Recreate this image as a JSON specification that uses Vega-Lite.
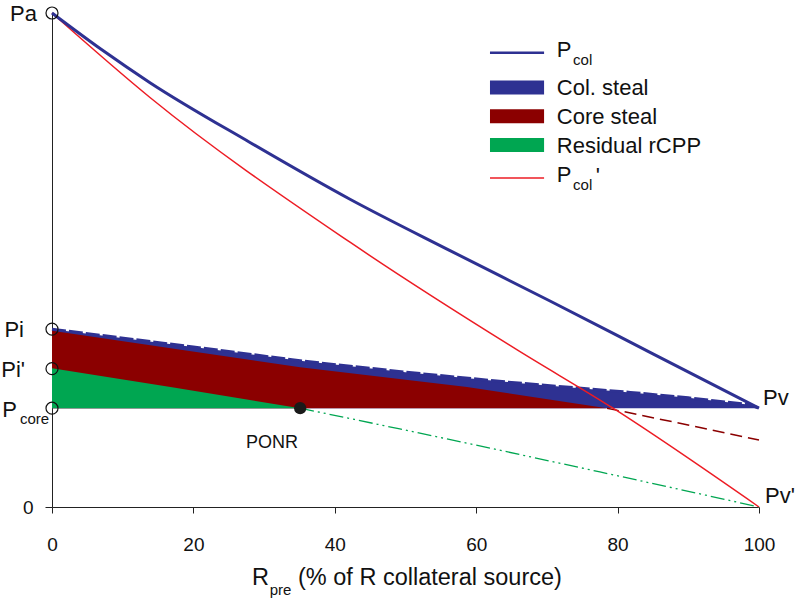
{
  "$schema": "https://vega.github.io/schema/vega-lite/v6.json",
  "width": 707,
  "height": 494,
  "autosize": {"type": "none"},
  "padding": {"left": 52, "top": 13, "right": 41, "bottom": 94},
  "background": "white",
  "config": {
    "view": {"stroke": null},
    "font": "Liberation Sans",
    "text": {"font": "Liberation Sans", "color": "#111"}
  },
  "datasets": {
    "curves": [
      {"series": "colTop", "x": 0, "y": 36.0},
      {"series": "colTop", "x": 20, "y": 32.4},
      {"series": "colTop", "x": 35.1, "y": 29.6},
      {"series": "colTop", "x": 50, "y": 27.3},
      {"series": "colTop", "x": 65, "y": 25.2},
      {"series": "colTop", "x": 81.8, "y": 23.2},
      {"series": "colTop", "x": 90, "y": 22.1},
      {"series": "colTop", "x": 98.7, "y": 20.7},
      {"series": "colTop", "x": 100, "y": 20.0},
      {"series": "coreTop", "x": 0, "y": 35.7},
      {"series": "coreTop", "x": 17.5, "y": 32.0},
      {"series": "coreTop", "x": 35.1, "y": 28.3},
      {"series": "coreTop", "x": 58.7, "y": 24.3},
      {"series": "coreTop", "x": 78.5, "y": 20.0},
      {"series": "coreDash", "x": 78.5, "y": 20.0},
      {"series": "coreDash", "x": 91.65, "y": 16.1},
      {"series": "coreDash", "x": 100, "y": 13.55},
      {"series": "resTop", "x": 0, "y": 28.1},
      {"series": "resTop", "x": 17.2, "y": 24.2},
      {"series": "resTop", "x": 35.1, "y": 20.0},
      {"series": "resDash", "x": 35.1, "y": 20.0},
      {"series": "resDash", "x": 49.2, "y": 15.8},
      {"series": "resDash", "x": 77.5, "y": 7.1},
      {"series": "resDash", "x": 100, "y": 0},
      {"series": "pcol", "x": 0, "y": 100},
      {"series": "pcol", "x": 7, "y": 92.6},
      {"series": "pcol", "x": 13.86, "y": 85.9},
      {"series": "pcol", "x": 28, "y": 73.8},
      {"series": "pcol", "x": 42.15, "y": 62.3},
      {"series": "pcol", "x": 56.3, "y": 51.9},
      {"series": "pcol", "x": 70.44, "y": 41.7},
      {"series": "pcol", "x": 85, "y": 31.0},
      {"series": "pcol", "x": 100, "y": 20.0},
      {"series": "pcolp", "x": 0, "y": 100},
      {"series": "pcolp", "x": 13.86, "y": 82.9},
      {"series": "pcolp", "x": 42.15, "y": 53.6},
      {"series": "pcolp", "x": 65.8, "y": 31.8},
      {"series": "pcolp", "x": 79.35, "y": 20.0},
      {"series": "pcolp", "x": 100, "y": 0}
    ],
    "markers": [
      {"name": "Pa", "x": 0, "y": 100},
      {"name": "Pi", "x": 0, "y": 36},
      {"name": "Pi'", "x": 0, "y": 28},
      {"name": "Pcore", "x": 0, "y": 20}
    ],
    "ponr": [{"x": 35.1, "y": 20}],
    "legendItems": [
      {"item": "Pcol", "kind": "line", "x": 61.95, "x2": 69.6, "y": 91.95},
      {"item": "Col. steal", "kind": "box", "x": 61.95, "x2": 69.6, "y": 84.9},
      {"item": "Core steal", "kind": "box", "x": 61.95, "x2": 69.6, "y": 79.1},
      {"item": "Residual rCPP", "kind": "box", "x": 61.95, "x2": 69.6, "y": 73.3},
      {"item": "Pcol'", "kind": "thin", "x": 61.95, "x2": 69.6, "y": 66.6}
    ],
    "labels": [
      {"text": "P", "kind": "left", "x": 71.4, "y": 91.05},
      {"text": "Col. steal", "kind": "left", "x": 71.4, "y": 83.35},
      {"text": "Core steal", "kind": "left", "x": 71.4, "y": 77.5},
      {"text": "Residual rCPP", "kind": "left", "x": 71.4, "y": 71.6},
      {"text": "P", "kind": "left", "x": 71.4, "y": 65.75},
      {"text": "'", "kind": "left", "x": 76.9, "y": 65.6},
      {"text": "Pv", "kind": "left", "x": 100.57, "y": 20.6},
      {"text": "Pv'", "kind": "left", "x": 100.85, "y": 0.8},
      {"text": "Pa", "kind": "right", "x": -2.12, "y": 98.3},
      {"text": "Pi", "kind": "right", "x": -3.96, "y": 34.4},
      {"text": "Pi'", "kind": "right", "x": -3.82, "y": 26.3},
      {"text": "P", "kind": "right", "x": -4.95, "y": 18.2},
      {"text": "col", "kind": "sub", "x": 73.7, "y": 89.4},
      {"text": "col", "kind": "sub", "x": 73.7, "y": 64.1},
      {"text": "core", "kind": "sub", "x": -4.53, "y": 16.8},
      {"text": "pre", "kind": "sub", "x": 30.8, "y": -17.8},
      {"text": "R", "kind": "title", "x": 28.29, "y": -15.7},
      {"text": "(% of R collateral source)", "kind": "title", "x": 34.8, "y": -15.7},
      {"text": "PONR", "kind": "ponr", "x": 34.8, "y": 11.9}
    ]
  },
  "encoding": {
    "x": {
      "field": "x", "type": "quantitative",
      "scale": {"domain": [0, 100], "nice": false, "zero": false},
      "axis": {
        "values": [0, 20, 40, 60, 80, 100], "title": null, "grid": false,
        "domainColor": "#222", "tickColor": "#222", "tickSize": 6,
        "labelFont": "Liberation Sans", "labelFontSize": 19, "labelColor": "#111",
        "labelBaseline": "alphabetic", "labelPadding": 37, "labelFlush": false
      }
    },
    "y": {
      "field": "y", "type": "quantitative",
      "scale": {"domain": [0, 100], "nice": false, "zero": false},
      "axis": {
        "values": [0], "title": null, "grid": false,
        "domainColor": "#222", "tickColor": "#222", "tickSize": 7,
        "labelFont": "Liberation Sans", "labelFontSize": 19, "labelColor": "#111",
        "labelPadding": 12
      }
    }
  },
  "layer": [
    {
      "data": {"name": "curves"},
      "transform": [{"filter": "datum.series === 'colTop'"}],
      "mark": {"type": "area", "color": "#2E3192", "opacity": 1},
      "encoding": {"y2": {"datum": 20}}
    },
    {
      "data": {"name": "curves"},
      "transform": [{"filter": "datum.series === 'colTop'"}],
      "mark": {"type": "line", "color": "#2E3192", "strokeWidth": 3, "strokeDash": [14, 3]},
      "encoding": {}
    },
    {
      "data": {"name": "curves"},
      "transform": [{"filter": "datum.series === 'coreTop'"}],
      "mark": {"type": "area", "color": "#8B0000", "opacity": 1},
      "encoding": {"y2": {"datum": 20}}
    },
    {
      "data": {"name": "curves"},
      "transform": [{"filter": "datum.series === 'resTop'"}],
      "mark": {"type": "area", "color": "#00A651", "opacity": 1},
      "encoding": {"y2": {"datum": 20}}
    },
    {
      "data": {"values": [{"a": 1}]},
      "mark": {"type": "rule", "color": "#333", "strokeWidth": 1.3, "strokeDash": [1.5, 3]},
      "encoding": {"x": {"datum": 0}, "x2": {"datum": 100}, "y": {"datum": 20}}
    },
    {
      "data": {"values": [{"a": 1}]},
      "mark": {"type": "rule", "color": "#333", "strokeWidth": 1.5, "strokeDash": [1.5, 3.5]},
      "encoding": {"x": {"datum": 35.1}, "y": {"datum": 0}, "y2": {"datum": 20}}
    },
    {
      "data": {"name": "curves"},
      "transform": [{"filter": "datum.series === 'coreDash'"}],
      "mark": {"type": "line", "color": "#8B0000", "strokeWidth": 1.5, "strokeDash": [12, 6]},
      "encoding": {}
    },
    {
      "data": {"name": "curves"},
      "transform": [{"filter": "datum.series === 'resDash'"}],
      "mark": {"type": "line", "color": "#00A651", "strokeWidth": 1.3, "strokeDash": [14, 4, 2, 4, 2, 4], "interpolate": "monotone"},
      "encoding": {}
    },
    {
      "data": {"name": "curves"},
      "transform": [{"filter": "datum.series === 'pcolp'"}],
      "mark": {"type": "line", "color": "#ED1C24", "strokeWidth": 1.5, "interpolate": "monotone"},
      "encoding": {}
    },
    {
      "data": {"name": "curves"},
      "transform": [{"filter": "datum.series === 'pcol'"}],
      "mark": {"type": "line", "color": "#2E3192", "strokeWidth": 3, "interpolate": "monotone"},
      "encoding": {}
    },
    {
      "data": {"name": "markers"},
      "mark": {"type": "point", "shape": "circle", "filled": false, "size": 144, "stroke": "#111", "strokeWidth": 1.2, "opacity": 1},
      "encoding": {}
    },
    {
      "data": {"name": "ponr"},
      "mark": {"type": "point", "shape": "circle", "filled": true, "size": 150, "color": "#1a1a1a", "opacity": 1},
      "encoding": {}
    },
    {
      "data": {"name": "legendItems"},
      "transform": [{"filter": "datum.kind === 'line'"}],
      "mark": {"type": "rule", "color": "#2E3192", "strokeWidth": 2.5},
      "encoding": {"x2": {"field": "x2"}}
    },
    {
      "data": {"name": "legendItems"},
      "transform": [{"filter": "datum.kind === 'thin'"}],
      "mark": {"type": "rule", "color": "#ED1C24", "strokeWidth": 1.5},
      "encoding": {"x2": {"field": "x2"}}
    },
    {
      "data": {"name": "legendItems"},
      "transform": [{"filter": "datum.kind === 'box'"}],
      "mark": {"type": "rule", "strokeWidth": 14, "strokeCap": "butt"},
      "encoding": {
        "x2": {"field": "x2"},
        "color": {
          "field": "item", "type": "nominal", "legend": null,
          "scale": {"domain": ["Col. steal", "Core steal", "Residual rCPP"], "range": ["#2E3192", "#8B0000", "#00A651"]}
        }
      }
    },
    {
      "data": {"name": "labels"},
      "transform": [{"filter": "datum.kind === 'left'"}],
      "mark": {"type": "text", "align": "left", "baseline": "alphabetic", "fontSize": 22},
      "encoding": {"text": {"field": "text"}}
    },
    {
      "data": {"name": "labels"},
      "transform": [{"filter": "datum.kind === 'right'"}],
      "mark": {"type": "text", "align": "right", "baseline": "alphabetic", "fontSize": 22},
      "encoding": {"text": {"field": "text"}}
    },
    {
      "data": {"name": "labels"},
      "transform": [{"filter": "datum.kind === 'title'"}],
      "mark": {"type": "text", "align": "left", "baseline": "alphabetic", "fontSize": 23.5},
      "encoding": {"text": {"field": "text"}}
    },
    {
      "data": {"name": "labels"},
      "transform": [{"filter": "datum.kind === 'sub'"}],
      "mark": {"type": "text", "align": "left", "baseline": "alphabetic", "fontSize": 15},
      "encoding": {"text": {"field": "text"}}
    },
    {
      "data": {"name": "labels"},
      "transform": [{"filter": "datum.kind === 'ponr'"}],
      "mark": {"type": "text", "align": "right", "baseline": "alphabetic", "fontSize": 18},
      "encoding": {"text": {"field": "text"}}
    }
  ]
}
